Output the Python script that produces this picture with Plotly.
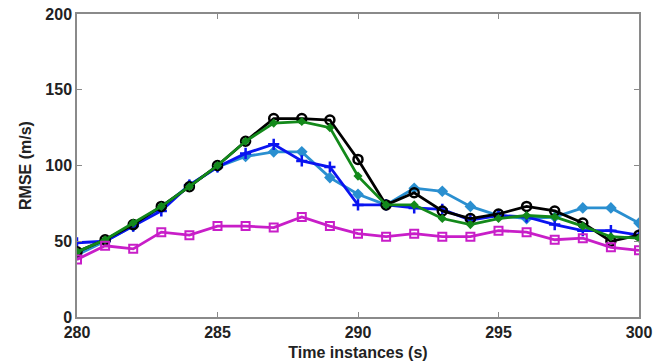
import plotly.graph_objects as go

# Time instances (s)
time_s = list(range(280, 301))

# RMSE (m/s) per method
rmse_black = [43, 51, 61, 73, 86, 100, 116, 131, 131, 130, 104, 74, 82, 70, 65, 68, 73, 70, 62, 50, 54]
rmse_green = [43, 51, 62, 73, 86, 100, 116, 128, 129, 125, 93, 74, 74, 65, 61, 65, 67, 66, 60, 53, 52]
rmse_blue = [49, 50, 60, 70, 87, 99, 108, 114, 103, 99, 74, 74, 72, 71, 64, 67, 66, 61, 57, 57, 54]
rmse_cyan = [41, 50, 60, 72, 87, 99, 106, 109, 109, 92, 81, 74, 85, 83, 73, 67, 65, 66, 72, 72, 62]
rmse_magenta = [38, 47, 45, 56, 54, 60, 60, 59, 66, 60, 55, 53, 55, 53, 53, 57, 56, 51, 52, 46, 44]

x_ticks = [280, 285, 290, 295, 300]
y_ticks = [0, 50, 100, 150, 200]

series = [
    (rmse_cyan, "#2a8fd0", dict(symbol="diamond", size=9)),
    (rmse_blue, "#0a14f0", dict(symbol="cross-thin-open", size=8, line=dict(width=2.5, color="#0a14f0"))),
    (rmse_black, "#000000", dict(symbol="circle-open", size=9, line=dict(width=2.5, color="#000000"))),
    (rmse_green, "#13891a", dict(symbol="diamond", size=7)),
    (rmse_magenta, "#c81ec8", dict(symbol="square-open", size=8, line=dict(width=2, color="#c81ec8"))),
]

fig = go.Figure()
for values, color, marker in series:
    fig.add_trace(go.Scatter(
        x=time_s, y=values, mode="lines+markers",
        line=dict(color=color, width=2.8),
        marker=dict(color=color, **marker),
        showlegend=False,
    ))

axis_font = dict(family="Liberation Sans, Arial, sans-serif", size=16, color="#222222", weight="bold")
common = dict(
    showline=True, linecolor="#8a8a8a", linewidth=1.5, mirror="ticks",
    ticks="inside", ticklen=5, tickcolor="#8a8a8a", tickwidth=1,
    showgrid=False, zeroline=False, automargin=False,
    tickfont=axis_font,
)

fig.update_xaxes(
    range=[280, 300], tickvals=x_ticks, ticktext=[str(v) for v in x_ticks],
    title=dict(text="Time instances (s)", font=axis_font, standoff=7),
    **common,
)
fig.update_yaxes(
    range=[0, 200], tickvals=y_ticks, ticktext=[str(v) for v in y_ticks],
    title=dict(text="RMSE (m/s)", font=axis_font, standoff=10),
    **common,
)

fig.update_layout(
    width=669, height=364,
    margin=dict(l=77, r=30, t=14, b=47),
    paper_bgcolor="white", plot_bgcolor="white",
)

fig.write_html("out.html")
